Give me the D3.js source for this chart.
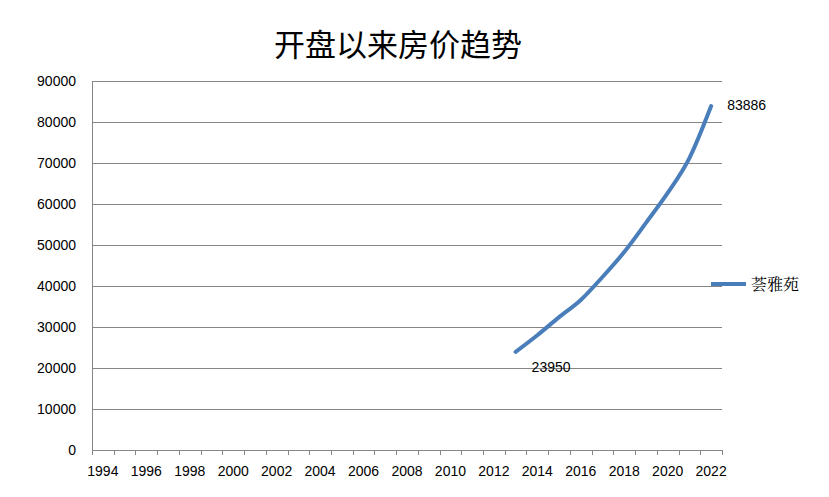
<!DOCTYPE html>
<html><head><meta charset="utf-8">
<script src="https://cdn.jsdelivr.net/npm/d3@7"></script>
<style>body{margin:0;background:#fff}</style>
</head><body>
<svg id="chart" width="829" height="497"></svg>
<script>
// data
var years = d3.range(1994, 2023);
var seriesYears = [2013, 2014, 2015, 2016, 2017, 2018, 2019, 2020, 2021, 2022];
var seriesValues = [23950, 28000, 32400, 36600, 42200, 48300, 55400, 62700, 71200, 83886];
var yTicks = [0, 10000, 20000, 30000, 40000, 50000, 60000, 70000, 80000, 90000];
var seriesName = "荟雅苑";
var title = "开盘以来房价趋势";

var svg = d3.select("#chart");
var pLeft = 92, pRight = 722, pTop = 81, pBottom = 450;
var font = "Liberation Sans, Arial, sans-serif";

var x = d3.scaleBand().domain(years).range([pLeft, pRight]);
var y = d3.scaleLinear().domain([0, 90000]).range([pBottom, pTop]);

svg.append("text").attr("x", 398).attr("y", 56).attr("text-anchor", "middle")
  .style("font-family", "Noto Sans CJK SC").style("font-size", "31px").text(title);

// gridlines
svg.selectAll("line.grid").data(yTicks).enter().append("line")
  .attr("x1", pLeft).attr("x2", pRight)
  .attr("y1", function (d) { return Math.round(y(d)) + 0.5; }).attr("y2", function (d) { return Math.round(y(d)) + 0.5; })
  .attr("stroke", "#868686");

svg.selectAll("text.yl").data(yTicks).enter().append("text")
  .attr("x", 76).attr("y", function (d) { return y(d) + 5; })
  .attr("text-anchor", "end").style("font-family", font).style("font-size", "14px")
  .text(function (d) { return d; });

svg.append("line").attr("x1", pLeft + 0.5).attr("x2", pLeft + 0.5).attr("y1", pTop).attr("y2", pBottom).attr("stroke", "#868686");

// x ticks at band edges
var edges = years.map(function (d) { return x(d); }).concat([pRight]);
svg.selectAll("line.xt").data(edges).enter().append("line")
  .attr("x1", function (d) { return Math.round(d) + 0.5; }).attr("x2", function (d) { return Math.round(d) + 0.5; })
  .attr("y1", pBottom).attr("y2", pBottom + 5).attr("stroke", "#868686");

svg.selectAll("text.xl").data(years.filter(function (d) { return d % 2 === 0; })).enter().append("text")
  .attr("x", function (d) { return x(d) + x.bandwidth() / 2; }).attr("y", 476)
  .attr("text-anchor", "middle").style("font-family", font).style("font-size", "14px")
  .text(function (d) { return d; });

var pts = seriesYears.map(function (d, i) { return [x(d) + x.bandwidth() / 2, y(seriesValues[i])]; });
svg.append("path").attr("d", d3.line().curve(d3.curveMonotoneX)(pts))
  .attr("fill", "none").attr("stroke", "#4a7ebb").attr("stroke-width", 4).attr("stroke-linecap", "round");

var first = pts[0], last = pts[pts.length - 1];
svg.append("text").attr("x", first[0] + 16).attr("y", first[1] + 20)
  .style("font-family", font).style("font-size", "14px").text(seriesValues[0]);
svg.append("text").attr("x", last[0] + 16).attr("y", last[1] + 4)
  .style("font-family", font).style("font-size", "14px").text(seriesValues[seriesValues.length - 1]);

// legend
svg.append("line").attr("x1", 711).attr("x2", 746).attr("y1", 284).attr("y2", 284)
  .attr("stroke", "#4a7ebb").attr("stroke-width", 4);
svg.append("text").attr("x", 751).attr("y", 290)
  .style("font-family", "Noto Serif CJK SC, Noto Sans CJK SC").style("font-size", "16px").text(seriesName);
</script>
</body></html>
